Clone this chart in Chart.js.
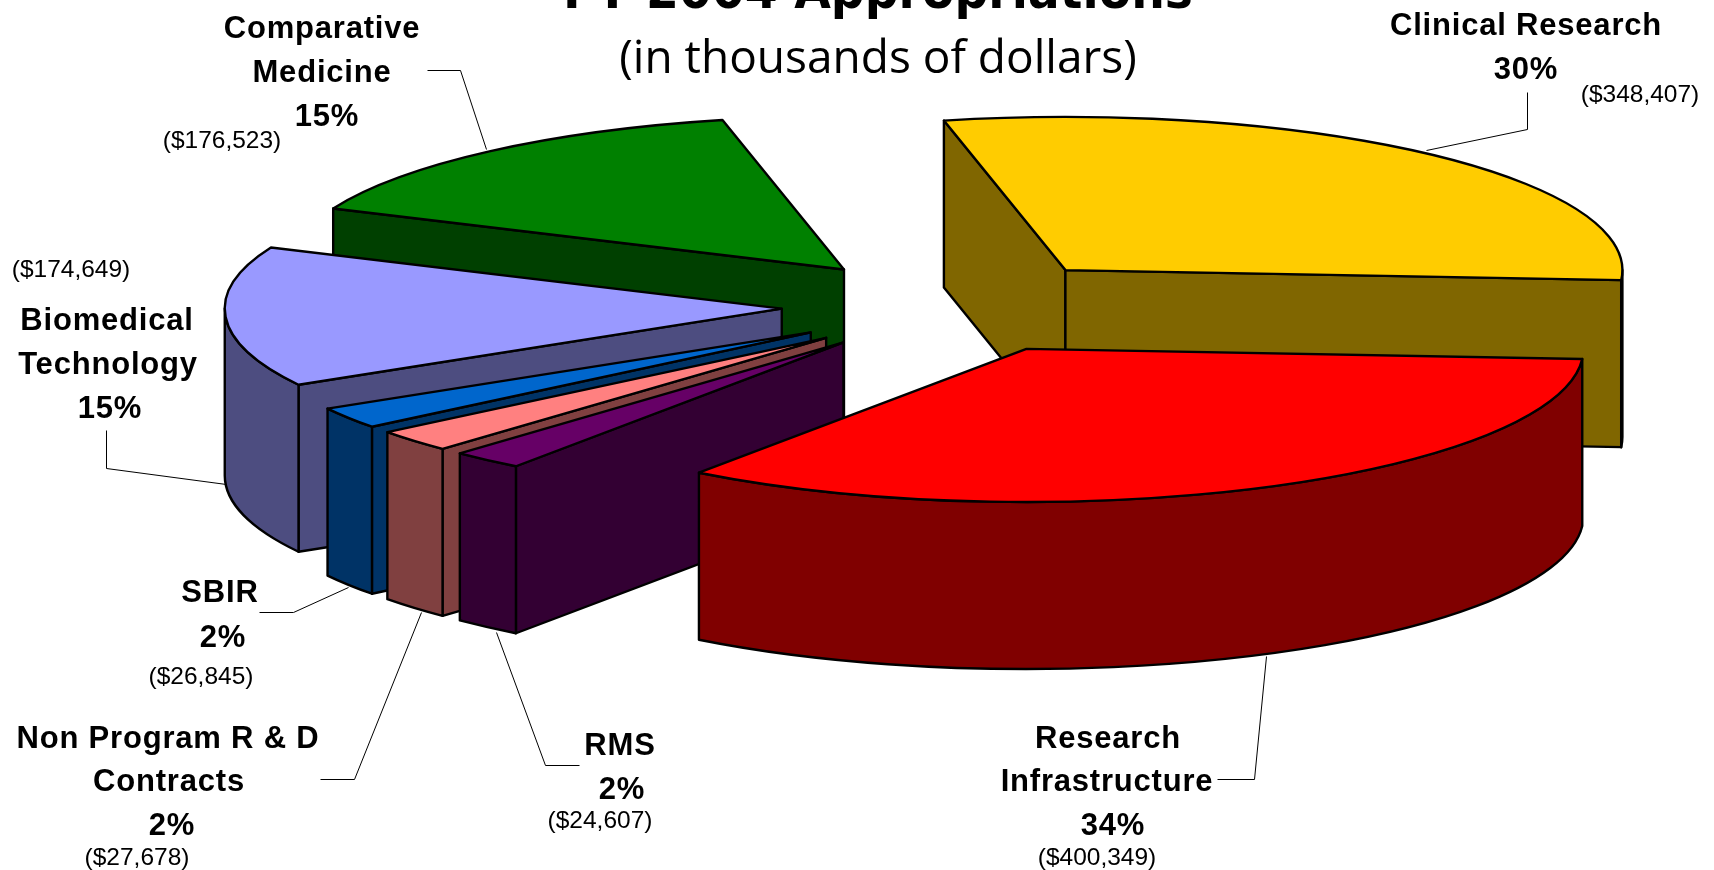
<!DOCTYPE html>
<html><head><meta charset="utf-8">
<style>html,body{margin:0;padding:0;background:#fff;overflow:hidden}canvas{display:block}#w{position:relative;width:1714px;height:870px}</style>
<script src="https://cdn.jsdelivr.net/npm/chart.js@4/dist/chart.umd.min.js"></script>
</head><body><div id="w"><canvas id="c" width="1714" height="870"></canvas></div>
<script>
const categories = ['Clinical Research','Research Infrastructure','RMS','Non Program R & D Contracts','SBIR','Biomedical Technology','Comparative Medicine'];
const values = [348407,400349,24607,27678,26845,174649,176523];
const topColors = ['#FFCC00','#FF0000','#660066','#FF8080','#0066CC','#9999FF','#008000'];
const sideColors = ['#806600','#800000','#330033','#804040','#003366','#4D4D80','#004000'];
const titleText = 'FY 2004 Appropriations';
const subtitleText = '(in thousands of dollars)';

// label layout: [name lines with x,y], percent position, dollar position, leader polyline
const labelLayout = [
  {lines:[['Clinical Research',1526,26]],pct:[1526,70],val:[1640,95],lead:[[1527,92],[1527,129],[1426,150]]},
  {lines:[['Research',1108,739],['Infrastructure',1107,782]],pct:[1113,826],val:[1097,858],lead:[[1217,779],[1254,779],[1266,656]]},
  {lines:[['RMS',620,746]],pct:[622,790],val:[600,821],lead:[[579,765],[545,765],[496,632]]},
  {lines:[['Non Program R & D',168,739],['Contracts',169,782]],pct:[172,826],val:[137,858],lead:[[320,779],[354,779],[421,612]]},
  {lines:[['SBIR',220,593]],pct:[223,638],val:[201,677],lead:[[259,612],[293,612],[348,587]]},
  {lines:[['Biomedical',107,321],['Technology',108,365]],pct:[110,409],val:[71,270],lead:[[106,430],[106,468],[226,484]]},
  {lines:[['Comparative',322,29],['Medicine',322,73]],pct:[327,117],val:[222,141],lead:[[427,70],[460,70],[486,149]]}
];

const FLATTEN = 0.275, EXPLODE = 172, DEPTH = 167, EDGE = 2.4;
const total = values.reduce((a,b)=>a+b,0);
const money = v => '($' + v.toLocaleString('en-US') + ')';

const pie3d = {
  id:'pie3d',
  beforeDatasetDraw(chart,args){
    const ctx = chart.ctx, arcs = chart.getDatasetMeta(args.index).data;
    const items = arcs.map((arc,i)=>{
      const mid = (arc.startAngle+arc.endAngle)/2;
      return {arc,i,dx:Math.cos(mid)*EXPLODE,dy:Math.sin(mid)*EXPLODE*FLATTEN};
    }).sort((a,b)=>a.dy-b.dy);
    items.forEach(({arc,i,dx,dy})=>{
      const cx = arc.x+dx, cy = arc.y+dy, r = arc.outerRadius;
      const P = a => [cx+Math.cos(a)*r, cy+Math.sin(a)*r*FLATTEN];
      const a0 = arc.startAngle, a1 = arc.endAngle;
      ctx.save();
      ctx.lineWidth = EDGE; ctx.strokeStyle = '#000'; ctx.lineJoin = 'round';
      ctx.fillStyle = sideColors[i];
      const face = a => {
        const p = P(a);
        ctx.beginPath(); ctx.moveTo(cx,cy); ctx.lineTo(p[0],p[1]);
        ctx.lineTo(p[0],p[1]+DEPTH); ctx.lineTo(cx,cy+DEPTH); ctx.closePath();
        ctx.fill(); ctx.stroke();
      };
      if (Math.cos(a0) < 0) face(a0);
      if (Math.cos(a1) > 0) face(a1);
      // outer wall: front-facing part of the rim
      const k = Math.floor(a0/(2*Math.PI));
      const ranges = [k,k+1].map(n=>[Math.max(a0,n*2*Math.PI),Math.min(a1,n*2*Math.PI+Math.PI)]);
      ranges.forEach(([u,v])=>{
        if (v <= u) return;
        ctx.beginPath();
        ctx.ellipse(cx,cy,r,r*FLATTEN,0,u,v);
        ctx.ellipse(cx,cy+DEPTH,r,r*FLATTEN,0,v,u,true);
        ctx.closePath(); ctx.fill(); ctx.stroke();
      });
      // top face drawn by the library's arc element, in the flattened plane
      ctx.save();
      ctx.translate(cx,cy); ctx.scale(1,FLATTEN); ctx.translate(-arc.x,-arc.y);
      arc.draw(ctx);
      ctx.restore();
      ctx.beginPath(); ctx.moveTo(cx,cy);
      ctx.ellipse(cx,cy,r,r*FLATTEN,0,a0,a1);
      ctx.closePath(); ctx.stroke();
      ctx.restore();
    });
    return false;
  },
  afterDraw(chart){
    const ctx = chart.ctx;
    ctx.save();
    ctx.fillStyle = '#000'; ctx.textAlign = 'center'; ctx.textBaseline = 'alphabetic';
    ctx.save();
    ctx.translate(878,8); ctx.scale(0.91,1);
    ctx.font = 'bold 52px "DejaVu Sans"'; ctx.letterSpacing = '0px';
    ctx.fillText(titleText,0,0);
    ctx.restore();
    ctx.font = '46px "Open Sans"';
    ctx.fillText(subtitleText,878,73);
    ctx.textBaseline = 'middle';
    labelLayout.forEach((l,i)=>{
      ctx.strokeStyle = '#000'; ctx.lineWidth = 1;
      ctx.beginPath();
      l.lead.forEach((p,j)=> j ? ctx.lineTo(p[0]+.5,p[1]+.5) : ctx.moveTo(p[0]+.5,p[1]+.5));
      ctx.stroke();
      ctx.font = 'bold 31px "Liberation Sans"'; ctx.letterSpacing = '0.8px';
      l.lines.forEach(t=>ctx.fillText(t[0],t[1],t[2]));
      ctx.fillText(Math.round(values[i]/total*100)+'%',l.pct[0],l.pct[1]);
      ctx.font = '24.5px "Liberation Sans"'; ctx.letterSpacing = '0px';
      ctx.fillText(money(values[i]),l.val[0],l.val[1]);
    });
    ctx.restore();
  }
};

new Chart(document.getElementById('c'),{
  type:'pie',
  data:{labels:categories,datasets:[{data:values,backgroundColor:topColors,borderWidth:0,radius:557}]},
  options:{
    responsive:false,animation:false,rotation:-12.6,
    layout:{padding:{left:193,bottom:258}},
    plugins:{legend:{display:false},tooltip:{enabled:false},title:{display:false}}
  },
  plugins:[pie3d]
});
</script></body></html>
